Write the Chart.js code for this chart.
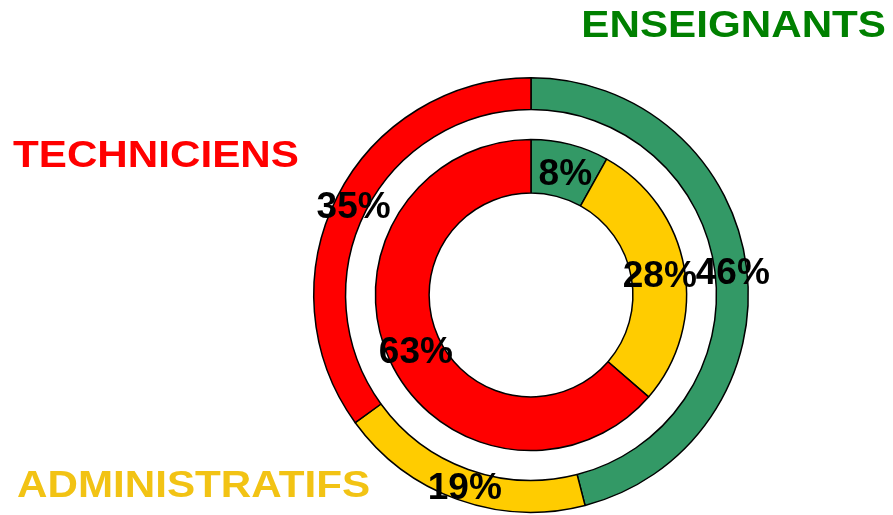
<!DOCTYPE html>
<html>
<head>
<meta charset="utf-8">
<script src="https://cdn.jsdelivr.net/npm/chart.js@4.4.1/dist/chart.umd.min.js"></script>
<style>
  html, body { margin: 0; padding: 0; background: #fff; }
  canvas { display: block; }
</style>
</head>
<body>
<canvas id="rings" width="893" height="515"></canvas>
<script>
// staff breakdown: outer ring = first year, inner ring = second year
let categories = ['ENSEIGNANTS', 'ADMINISTRATIFS', 'TECHNICIENS'];
let outerValues = [46, 19, 35];
let innerValues = [8, 28, 63];
let sliceColors = ['#339966', '#FFCC00', '#FF0000'];
let nameColors = ['#008000', '#F2C314', '#FF0000'];

const FONT = "'Liberation Sans', Arial, sans-serif";

// category names sitting around the rings
let namePlacement = {
  ENSEIGNANTS:    {x: 886, y: 25, align: 'right'},
  TECHNICIENS:    {x: 13, y: 155, align: 'left'},
  ADMINISTRATIFS: {x: 17, y: 485, align: 'left'}
};

const ringLabels = {
  id: 'ringLabels',
  afterDraw(chart) {
    let ctx = chart.ctx;
    ctx.save();
    ctx.textBaseline = 'middle';

    // percentages on each slice
    ctx.font = 'bold 37px ' + FONT;
    ctx.fillStyle = '#000';
    ctx.textAlign = 'center';
    chart.data.datasets.forEach((ds, i) => {
      if (ds.spacer) return;
      chart.getDatasetMeta(i).data.forEach((arc, j) => {
        let p = arc.tooltipPosition();
        ctx.fillText(ds.data[j] + '%', p.x + 2, p.y + 4);
      });
    });

    // category names, slightly stretched
    ctx.font = 'bold 37px ' + FONT;
    let stretch = 1.14;
    categories.forEach((name, i) => {
      let pos = namePlacement[name];
      let w = ctx.measureText(name).width * stretch;
      let left = pos.align === 'right' ? pos.x - w : pos.x;
      ctx.save();
      ctx.translate(left, pos.y + 2);
      ctx.scale(stretch, 1);
      ctx.textAlign = 'left';
      ctx.fillStyle = nameColors[i];
      ctx.fillText(name, 0, 0);
      ctx.restore();
    });
    ctx.restore();
  }
};

let chart = new Chart(document.getElementById('rings').getContext('2d'), {
  type: 'doughnut',
  data: {
    labels: categories,
    datasets: [
      {data: outerValues, backgroundColor: sliceColors, borderColor: '#000', borderWidth: 1.5, weight: 32},
      {data: [1], backgroundColor: 'rgba(0,0,0,0)', borderWidth: 0, weight: 30, spacer: true},
      {data: innerValues, backgroundColor: sliceColors, borderColor: '#000', borderWidth: 1.5, weight: 54}
    ]
  },
  options: {
    responsive: false,
    animation: false,
    cutout: '46.9%',
    layout: {padding: {top: 77, bottom: 2, left: 313, right: 144}},
    plugins: {legend: {display: false}, tooltip: {enabled: false}}
  },
  plugins: [ringLabels]
});
</script>
</body>
</html>
